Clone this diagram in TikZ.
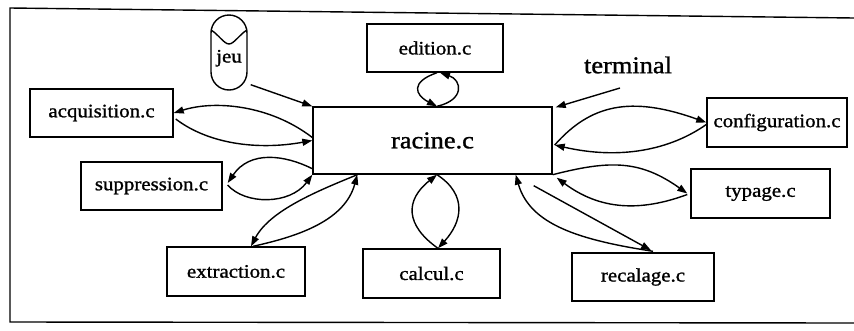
\documentclass[tikz,border=0pt]{standalone}
\usepackage{fontspec}
\setmainfont{Liberation Serif}[FakeStretch=1.1,FakeBold=1.2]
\usetikzlibrary{arrows.meta,calc}

\begin{document}
\begin{tikzpicture}[x=1pt,y=-1pt,line width=1.4pt,every node/.style={font=\fontsize{19}{19}\selectfont,inner sep=0pt},box/.style={draw,minimum width=140pt,minimum height=48pt},big/.style={font=\fontsize{24}{24}\selectfont},arrow/.style={-{Triangle[length=10pt,width=7pt]}}]
\useasboundingbox (0,0) rectangle (854,330);
% frame
\draw (854,18) -- (10,8) -- (10,322) -- (854,323);
% modules
\node[box,big,minimum width=239pt,minimum height=67pt] (racine) at (432.5,140.5) {racine.c};
\node[box,minimum width=136pt] (edition) at (435,48) {edition.c};
\node[box,minimum width=143pt] (acq) at (101.5,113) {acquisition.c};
\node[box,minimum width=141pt] (supp) at (151.5,186) {suppression.c};
\node[box,minimum width=138pt,minimum height=49pt] (extr) at (236,271.5) {extraction.c};
\node[box,minimum width=137pt,minimum height=49pt] (calcul) at (431.5,273.5) {calcul.c};
\node[box,minimum width=142pt] (recal) at (643,277) {recalage.c};
\node[box,minimum width=139pt,minimum height=49pt] (typage) at (760.5,193.5) {typage.c};
\node[box,minimum width=140pt,minimum height=49pt] (config) at (777,122.5) {configuration.c};
\node[draw,rounded corners=18pt,minimum width=36pt,minimum height=75pt] (jeu) at (229,52.5) {\raisebox{-10pt}[0pt][0pt]{jeu}};
\draw (211,30) .. controls (218,34) and (224,44) .. (229,44) .. controls (234,44) and (240,34) .. (247,30);
\node[big] (terminal) at (628,65) {terminal};
% links
\draw[arrow] ($(jeu.south east)+(3,-6)$) -- (racine.north west);
\draw[arrow] ($(racine.west)+(0,-3)$) .. controls (270,105) and (215,100) .. (acq.east);
\draw[arrow] ($(acq.east)+(2,6)$) .. controls (210,145) and (260,150) .. (racine.west);
\draw[arrow] ($(racine.south west)+(0,-6)$) .. controls (285,155) and (250,150) .. ($(supp.east)+(5,-3)$);
\draw[arrow] ($(supp.east)+(5,-1)$) .. controls (245,205) and (290,205) .. (racine.south west);
\draw[arrow] ($(racine.south west)+(45,0)$) .. controls (320,190) and (270,210) .. ($(extr.north)+(15,0)$);
\draw[arrow] ($(extr.north)+(17,0)$) .. controls (300,236) and (345,220) .. ($(racine.south west)+(45,0)$);
\draw[arrow] ($(calcul.north)+(6.5,0)$) .. controls (405,225) and (405,200) .. ($(racine.south)+(4.5,0)$);
\draw[arrow] ($(racine.south)+(4.5,0)$) .. controls (468,195) and (462,222) .. ($(calcul.north)+(6.5,0)$);
\draw[arrow] ($(edition.south)+(2,0)$) .. controls (410,82) and (415,95) .. ($(racine.north)+(4.5,0)$);
\draw[arrow] ($(racine.north)+(4.5,0)$) .. controls (465,100) and (462,80) .. ($(edition.south)+(5,0)$);
\draw[arrow] ($(recal.north)+(10,-1)$) .. controls (580,240) and (530,225) .. ($(racine.south east)+(-37,0)$);
\draw[arrow] ($(racine.south east)+(-19,11)$) -- ($(recal.north)+(8,-2)$);
\draw[arrow] (racine.south east) .. controls (610,160) and (640,160) .. ($(typage.west)+(-3,0)$);
\draw[arrow] ($(typage.west)+(-3,1)$) .. controls (640,212) and (600,210) .. ($(racine.south east)+(4,3)$);
\draw[arrow] ($(racine.east)+(2,4.5)$) .. controls (590,105) and (630,95) .. (config.west);
\draw[arrow] ($(config.west)+(0,2)$) .. controls (670,150) and (620,160) .. ($(racine.east)+(2,4.5)$);
\draw[arrow] ($(terminal.center)+(-8,23)$) -- ($(racine.north east)+(3,1)$);
\end{tikzpicture}
\end{document}
